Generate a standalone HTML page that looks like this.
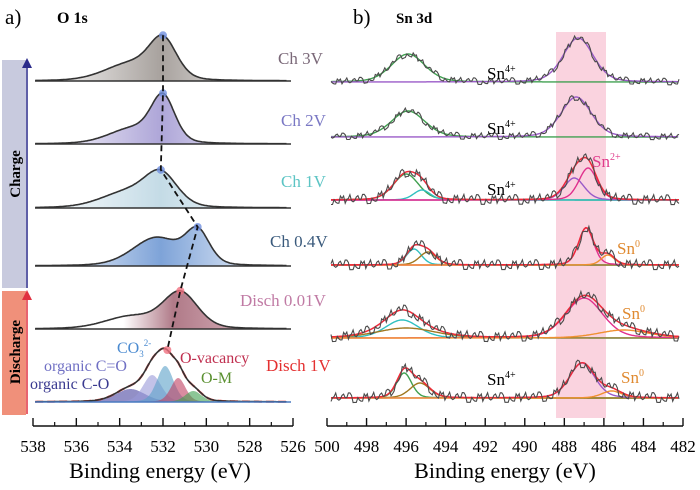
<!DOCTYPE html>
<html><head><meta charset="utf-8"><style>
body{margin:0;background:#fff;}
svg{display:block;font-family:"Liberation Serif",serif;}
</style></head><body>
<svg id="chart" width="700" height="490" viewBox="0 0 700 490" xmlns="http://www.w3.org/2000/svg">
<defs>
<linearGradient id="g0" x1="0" x2="1"><stop offset="0" stop-color="#fff"/><stop offset="0.5" stop-color="#a8a29e"/><stop offset="1" stop-color="#fff"/></linearGradient>
<linearGradient id="g1" x1="0" x2="1"><stop offset="0" stop-color="#fff"/><stop offset="0.5" stop-color="#aea6d8"/><stop offset="1" stop-color="#fff"/></linearGradient>
<linearGradient id="g2" x1="0" x2="1"><stop offset="0" stop-color="#fff"/><stop offset="0.5" stop-color="#c4dbe6"/><stop offset="1" stop-color="#fff"/></linearGradient>
<linearGradient id="g3" x1="0" x2="1"><stop offset="0" stop-color="#fff"/><stop offset="0.5" stop-color="#7ea3d8"/><stop offset="1" stop-color="#fff"/></linearGradient>
<linearGradient id="g4" x1="0" x2="1"><stop offset="0.35" stop-color="#fff"/><stop offset="0.55" stop-color="#b07a88"/><stop offset="1" stop-color="#e8c8d0"/></linearGradient>
</defs>
<rect x="556" y="32" width="50" height="386" fill="#f8c4d4" opacity="0.75"/>
<g id="left"></g>
<g id="right"></g>
<text x="5" y="24" font-size="21">a)</text>
<text x="57" y="23" font-size="16" font-weight="bold">O 1s</text>
<text x="353" y="24" font-size="21">b)</text>
<text x="396" y="23" font-size="15" font-weight="bold">Sn 3d</text>
<rect x="2" y="60" width="24" height="228" fill="#c8cade"/>
<rect x="2" y="291" width="24" height="124" fill="#f0907a"/>
<text transform="translate(20,174) rotate(-90)" text-anchor="middle" font-size="15" font-weight="bold">Charge</text>
<text transform="translate(20,352) rotate(-90)" text-anchor="middle" font-size="15" font-weight="bold">Discharge</text>
<line x1="27" y1="288" x2="27" y2="66" stroke="#2a2a8a" stroke-width="1.5"/>
<polygon points="22,68 27,58 32,68" fill="#2a2a8a"/>
<line x1="27" y1="414" x2="27" y2="298" stroke="#e03040" stroke-width="1.5"/>
<polygon points="22,300 27,290 32,300" fill="#e03040"/>
<g font-size="17">
<text x="278" y="64" fill="#7a6878">Ch 3V</text>
<text x="281" y="126" fill="#7a78c4">Ch 2V</text>
<text x="281" y="187" fill="#5cc4c4">Ch 1V</text>
<text x="270" y="247" fill="#3a5a7c">Ch 0.4V</text>
<text x="240" y="306" fill="#c07aa4">Disch 0.01V</text>
<text x="266" y="371" fill="#e43030">Disch 1V</text>
</g>
<g font-size="17">
<text x="487" y="79">Sn<tspan font-size="10" dy="-7">4+</tspan></text>
<text x="487" y="134">Sn<tspan font-size="10" dy="-7">4+</tspan></text>
<text x="487" y="195">Sn<tspan font-size="10" dy="-7">4+</tspan></text>
<text x="487" y="385">Sn<tspan font-size="10" dy="-7">4+</tspan></text>
<text x="592" y="167" fill="#e03c8c">Sn<tspan font-size="10" dy="-7">2+</tspan></text>
<text x="617" y="254" fill="#e08a30">Sn<tspan font-size="10" dy="-7">0</tspan></text>
<text x="622" y="319" fill="#e08a30">Sn<tspan font-size="10" dy="-7">0</tspan></text>
<text x="621" y="383" fill="#e08a30">Sn<tspan font-size="10" dy="-7">0</tspan></text>
</g>
<g font-size="16">
<text x="117" y="353" fill="#4a8ad0">CO<tspan font-size="9" dy="4">3</tspan><tspan font-size="9" dy="-11">2-</tspan></text>
<text x="44" y="371" fill="#7070c4">organic C=O</text>
<text x="30" y="389" fill="#3a3a90">organic C-O</text>
<text x="180" y="363" fill="#c03050">O-vacancy</text>
<text x="201" y="383" fill="#5a9030">O-M</text>
</g>
<text x="160" y="478" text-anchor="middle" font-size="22">Binding energy (eV)</text>
<text x="505" y="478" text-anchor="middle" font-size="22">Binding energy (eV)</text>
</svg>
<script>
// ---- data ----
const leftBaselines = [81, 144, 208, 266, 329, 402];
const leftPeaks = [
  [[532.0,38,1.5],[533.5,17,2.8]],
  [[532.0,44,1.3],[533.4,15,2.6]],
  [[532.1,32,1.8],[533.7,15,2.8]],
  [[530.4,32,1.3],[532.3,28,2.6]],
  [[531.2,36,1.9],[533.5,12,2.8]],
  [[533.5,13,1.6],[532.5,27,1.0],[531.9,36,0.9],[531.3,24,0.8],[530.6,11,0.9]]
];
const leftFills = ['url(#g0)','url(#g1)','url(#g2)','url(#g3)','url(#g4)',null];
const compColors = ['#4a44a0','#9a9ad8','#5aa0c8','#c04060','#40a050'];
const markerE = [532.0, 532.0, 532.1, 530.4, 531.2, 531.8];
const rightBaselines = [82, 137, 200, 265, 338, 398];
const rightPeaks = [
  [[495.9,28,2.0,'#40a050'],[487.3,44,1.8,'#9a5ac8']],
  [[495.9,26,2.0,'#40a050'],[487.4,40,1.8,'#9a5ac8']],
  [[496.0,26,1.5,'#40a050'],[495.2,10,1.0,'#30c0c0'],[487.5,22,1.2,'#9a5ac8'],[486.8,32,1.1,'#e0308c']],
  [[495.6,16,0.9,'#30c0c0'],[494.9,13,1.0,'#a07820'],[486.9,37,0.9,'#e0308c'],[485.8,10,0.8,'#f09030']],
  [[496.2,18,2.0,'#30c0c0'],[496.0,10,3.5,'#a07820'],[487.0,40,2.2,'#e0308c'],[485.0,8,3.0,'#f09030']],
  [[496.1,25,0.9,'#40a050'],[495.3,15,1.2,'#a07820'],[487.1,35,1.5,'#9a5ac8'],[485.6,7,1.2,'#f09030']]
];
const leftTicks = [538,536,534,532,530,528,526];
const rightTicks = [500,498,496,494,492,490,488,486,484,482];
const jitter = [0,3,-2,4,-3,1,-4,2,0,-3,4,-1,2,-4,3,-1,0,4,-3,1,-2,3,-4,0];
// ---- axes ----
const xL = e => 33 + (538 - e) * (260 / 12);
const xR = e => 327 + (500 - e) * (356 / 18);
const NS = 'http://www.w3.org/2000/svg';
function mk(tag, attrs, parent){const el=document.createElementNS(NS,tag);for(const k in attrs)el.setAttribute(k,attrs[k]);parent.appendChild(el);return el;}
const gauss = (e,p)=>{const t=(e-p[0])/(p[2]/2);return p[1]*(0.75*Math.exp(-Math.LN2*t*t)+0.25/(1+t*t));};
const L = document.getElementById('left'), R = document.getElementById('right');
// left spectra
leftPeaks.forEach((pk,i)=>{
  const b = leftBaselines[i]; let d='';
  for(let e=537.9;e>=526.3;e-=0.05){let y=0;pk.forEach(p=>y+=gauss(e,p));d+=(d?'L':'M')+xL(e).toFixed(1)+','+(b-y).toFixed(1);}
  if(leftFills[i]){
    const f=mk('path',{d:d+'Z',fill:leftFills[i],stroke:'none'},L);
    
    
  } else {
    pk.forEach((p,j)=>{let dd='';for(let e=p[0]+2.5;e>=p[0]-2.5;e-=0.05){dd+=(dd?'L':'M')+xL(e).toFixed(1)+','+(b-gauss(e,p)).toFixed(1);}
      const c=mk('path',{d:dd+'Z',fill:compColors[j],opacity:0.6},L);
      
      });
    const r=mk('path',{d:d,fill:'none',stroke:'#e83030','stroke-width':2,'stroke-dasharray':'8 4'},L);
    
    
  }
  const s=mk('path',{d:d,fill:'none',stroke:'#333',"stroke-width":1.6},L);
  
  
  const bl=mk('line',{x1:35,x2:291,y1:b,y2:b,stroke:i==5?'#4a7ac0':'#333','stroke-width':1.6},L);
  
  
});
// markers and dashed guide
let md='';
markerE.forEach((e,i)=>{let y=0;leftPeaks[i].forEach(p=>y+=gauss(e,p));const py=leftBaselines[i]-y;md+=(md?'L':'M')+xL(e).toFixed(1)+','+py.toFixed(1);
  const c=mk('circle',{cx:xL(e),cy:py,r:4,fill:i>=4?'#f07080':'#7090e0',opacity:0.8},L);
  
  });
const gl=mk('path',{d:md,fill:'none',stroke:'#111','stroke-width':1.8,'stroke-dasharray':'6 4'},L);


// right spectra
rightPeaks.forEach((pk,i)=>{
  const b=rightBaselines[i];
  pk.forEach((p,j)=>{let d='';for(let e=499.8;e>=482.2;e-=0.05){d+=(d?'L':'M')+xR(e).toFixed(1)+','+(b-gauss(e,p)).toFixed(1);}
    const c=mk('path',{d:d,fill:'none',stroke:p[3],'stroke-width':1.4},R);
    
    });
  let env='',raw='',k=0;
  for(let e=499.8;e>=482.2;e-=0.08){let y=0;pk.forEach(p=>y+=gauss(e,p));const X=xR(e).toFixed(1);
    env+=(env?'L':'M')+X+','+(b-y).toFixed(1);
    raw+=(raw?'L':'M')+X+','+(b-y+jitter[(k*7+i*5)%jitter.length]*(i>=2?1.2:0.8)).toFixed(1);k++;}
  if(pk.length>2){const r=mk('path',{d:env,fill:'none',stroke:'#ee2a3a','stroke-width':1.5},R);
    
    }
  const s=mk('path',{d:raw,fill:'none',stroke:'#4a4a4a','stroke-width':1.1},R);
  
  
});
// axes
function axis(g,fx,ticks,minor,x1,x2,name){
  const a=mk('line',{x1:x1,x2:x2,y1:426,y2:426,stroke:'#111','stroke-width':1.6},g);
  
  
  minor.forEach(v=>{const t=mk('line',{x1:fx(v),x2:fx(v),y1:426,y2:422,stroke:'#111','stroke-width':1.2},g);
    
    });
  ticks.forEach(v=>{const t=mk('line',{x1:fx(v),x2:fx(v),y1:426,y2:418,stroke:'#111','stroke-width':1.4},g);
    
    
    const l=mk('text',{x:fx(v),y:452,'text-anchor':'middle','font-size':17},g);l.textContent=v;
    
    });
}
axis(L,xL,leftTicks,leftTicks.slice(0,-1).map(v=>v-1),33,293,'x-axis-left');
axis(R,xR,rightTicks,rightTicks.slice(0,-1).map(v=>v-1),327,683,'x-axis-right');
</script>
</body></html>
